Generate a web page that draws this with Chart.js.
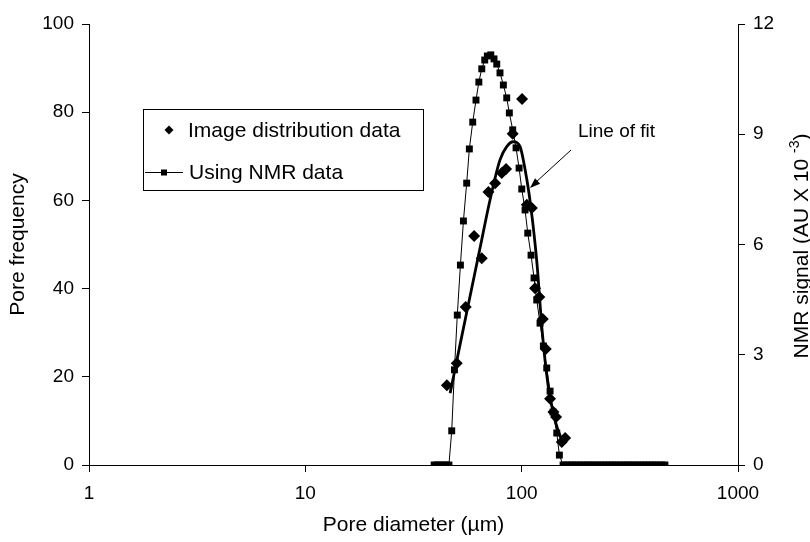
<!DOCTYPE html>
<html>
<head>
<meta charset="utf-8">
<script src="https://cdn.jsdelivr.net/npm/chart.js@4.4.0/dist/chart.umd.min.js"></script>
<style>
  html, body { margin: 0; padding: 0; background: #fff; }
</style>
</head>
<body>
<canvas id="poreChart" width="810" height="542"></canvas>
<script>
// x tick labels (log axis)
const xTickValues = [1, 10, 100, 1000];

// NMR signal (right axis, AU x 10^-3)
const nmrDiameter = [39.4, 40.6, 41.9, 43.3, 44.7, 46.1,
  47.5, 48.9, 50.4, 52.1, 53.8, 55.7, 57.3, 59.4, 61.5, 63.4,
  65.4, 67.5, 69.4, 72.0, 74.5, 76.7, 79.4, 82.3, 85.3, 87.7,
  90.9, 94.2, 97.3, 100.1, 103.7, 106.7, 110.5, 114.1, 117.4, 121.6,
  126.0, 130.6, 135.3, 139.7, 145.3, 149.4,
  155.4, 160.6, 165.9, 171.5, 177.2, 183.1, 189.2, 195.5, 202.1, 208.8,
  215.8, 223.0, 230.5, 238.2, 246.1, 254.3, 262.8, 271.6, 280.7, 290.0,
  299.7, 309.7, 320.1, 330.8, 341.8, 353.2, 365.0, 377.2, 389.8, 402.8,
  416.3, 430.2, 444.5, 459.4];
const nmrSignal = [0, 0, 0, 0, 0, 0,
  0.93, 2.59, 4.08, 5.44, 6.64, 7.67, 8.60, 9.33, 9.93, 10.42,
  10.78, 11.02, 11.13, 11.16, 11.05, 10.91, 10.67, 10.34, 9.99, 9.58,
  9.12, 8.63, 8.08, 7.51, 6.94, 6.31, 5.71, 5.09, 4.49, 3.86,
  3.24, 2.64, 2.01, 1.44, 0.87, 0.27,
  0, 0, 0, 0, 0, 0, 0, 0, 0, 0,
  0, 0, 0, 0, 0, 0, 0, 0, 0, 0,
  0, 0, 0, 0, 0, 0, 0, 0, 0, 0,
  0, 0, 0, 0];

// image distribution (left axis)
const imageDiameter = [45.1, 50.1, 55.1, 60.3, 65.4, 70.2, 75.4, 80.9, 84.7, 90.9, 100.4,
  105.6, 111.4, 115.3, 120.7, 125.2, 129.2, 135.3, 140.2, 144.2, 153.2, 158.8];
const imageFrequency = [18.1, 23.1, 35.8, 51.9, 46.9, 61.9, 63.9, 66.2, 67.1, 75.1, 83.0,
  59.0, 58.3, 40.1, 38.1, 33.1, 26.3, 15.0, 12.0, 10.9, 5.2, 6.1];

// line of fit (left axis)
const fitDiameter = [46.7, 51.9, 57.7, 64.2, 71.4, 79.4, 85.3, 91.5, 98.3, 103.7,
  108.2, 112.5, 117.8, 124.3, 132.5, 139.7, 145.8, 155.4];
const fitFrequency = [16.3, 27.3, 38.2, 49.2, 60.1, 69.2, 72.2, 73.3, 72.2, 67.0,
  61.5, 55.0, 45.5, 30.5, 18.0, 12.0, 8.5, 5.0];

const FONT = '"Liberation Sans", Arial, Helvetica, sans-serif';
Chart.defaults.font.family = FONT;
Chart.defaults.color = '#000';

const toPoints = (xs, ys) => xs.map((x, i) => ({ x: x, y: ys[i] }));

// legend, arrow label and right axis title
const overlay = {
  id: 'overlay',
  afterDraw(chart) {
    const ctx = chart.ctx;
    ctx.save();
    ctx.fillStyle = '#000';
    ctx.strokeStyle = '#000';

    // legend box
    ctx.lineWidth = 1;
    ctx.strokeRect(143.5, 109.5, 280, 81);
    ctx.font = '21px ' + FONT;
    ctx.textBaseline = 'middle';
    ctx.textAlign = 'left';
    const ds = chart.data.datasets;
    // diamond
    ctx.beginPath();
    ctx.moveTo(169, 125.5); ctx.lineTo(173.5, 130); ctx.lineTo(169, 134.5); ctx.lineTo(164.5, 130);
    ctx.closePath(); ctx.fill();
    ctx.fillText(ds[0].label, 188, 131);
    // line + square
    ctx.beginPath();
    ctx.moveTo(145, 172.5); ctx.lineTo(183, 172.5); ctx.stroke();
    ctx.fillRect(161, 169.5, 6, 6);
    ctx.fillText(ds[1].label, 189, 173);

    // line of fit label with arrow
    ctx.font = '19px ' + FONT;
    ctx.fillText('Line of fit', 578, 132);
    ctx.beginPath();
    ctx.moveTo(571, 150); ctx.lineTo(535, 183); ctx.stroke();
    const ang = Math.atan2(188 - 150, 530 - 571);
    ctx.beginPath();
    ctx.moveTo(530, 188);
    ctx.lineTo(530 - 11 * Math.cos(ang - 0.35), 188 - 11 * Math.sin(ang - 0.35));
    ctx.lineTo(530 - 11 * Math.cos(ang + 0.35), 188 - 11 * Math.sin(ang + 0.35));
    ctx.closePath(); ctx.fill();

    // right axis title with superscript
    const main = 'NMR signal (AU X 10 ';
    const sup = '-3';
    const end = ')';
    ctx.translate(800, 246);
    ctx.rotate(-Math.PI / 2);
    ctx.font = '21px ' + FONT;
    const wMain = ctx.measureText(main).width;
    const wEnd = ctx.measureText(end).width;
    ctx.font = '14px ' + FONT;
    const wSup = ctx.measureText(sup).width;
    let x0 = -(wMain + wSup + wEnd) / 2;
    ctx.textBaseline = 'alphabetic';
    ctx.font = '21px ' + FONT;
    ctx.fillText(main, x0, 7.5);
    ctx.font = '14px ' + FONT;
    ctx.fillText(sup, x0 + wMain, -1.5);
    ctx.font = '21px ' + FONT;
    ctx.fillText(end, x0 + wMain + wSup, 7.5);
    ctx.restore();
  }
};

const axisGrid = { drawOnChartArea: false, drawTicks: true, tickLength: 7, color: '#000', lineWidth: 1 };
const axisBorder = { display: true, color: '#000', width: 1 };

new Chart(document.getElementById('poreChart').getContext('2d'), {
  type: 'line',
  data: {
    datasets: [
      {
        label: 'Image distribution data',
        data: toPoints(imageDiameter, imageFrequency),
        yAxisID: 'y',
        showLine: false,
        pointStyle: 'rectRot',
        pointRadius: 6,
        pointBackgroundColor: '#000',
        pointBorderWidth: 0,
        borderColor: '#000'
      },
      {
        label: 'Using NMR data',
        data: toPoints(nmrDiameter, nmrSignal),
        yAxisID: 'y2',
        borderColor: '#000',
        borderWidth: 1,
        tension: 0,
        pointStyle: 'rect',
        pointRadius: 4.9,
        pointBackgroundColor: '#000',
        pointBorderWidth: 0
      },
      {
        label: 'Line of fit',
        data: toPoints(fitDiameter, fitFrequency),
        yAxisID: 'y',
        borderColor: '#000',
        borderWidth: 2.8,
        pointRadius: 0,
        cubicInterpolationMode: 'monotone'
      }
    ]
  },
  options: {
    responsive: false,
    animation: false,
    layout: { padding: { top: 24, left: 0, right: 0, bottom: 0 } },
    plugins: { legend: { display: false }, tooltip: { enabled: false } },
    scales: {
      x: {
        type: 'logarithmic',
        position: 'bottom',
        min: 1,
        max: 1000,
        afterBuildTicks: s => { s.ticks = xTickValues.map(v => ({ value: v })); },
        afterFit: s => { s.height = 77; },
        ticks: { callback: v => String(v), font: { size: 19 }, color: '#000', padding: 10, autoSkip: false, maxRotation: 0 },
        grid: axisGrid,
        border: axisBorder,
        title: { display: true, text: 'Pore diameter (\u00b5m)', font: { size: 21 }, color: '#000', padding: { top: 0, bottom: 4 } }
      },
      y: {
        position: 'left',
        min: 0,
        max: 100,
        afterFit: s => { s.width = 89; },
        ticks: { stepSize: 20, font: { size: 19 }, color: '#000', padding: 8 },
        grid: axisGrid,
        border: axisBorder,
        title: { display: true, text: 'Pore frequency', font: { size: 21 }, color: '#000', padding: { top: 6, bottom: 0 } }
      },
      y2: {
        position: 'right',
        min: 0,
        max: 12,
        afterFit: s => { s.width = 72; },
        ticks: { stepSize: 3, font: { size: 19 }, color: '#000', padding: 8 },
        grid: axisGrid,
        border: axisBorder
      }
    }
  },
  plugins: [overlay]
});
</script>
</body>
</html>
